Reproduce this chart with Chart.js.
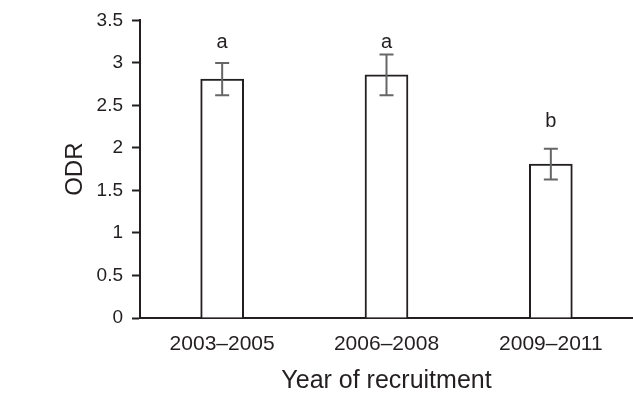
<!DOCTYPE html>
<html>
<head>
<meta charset="utf-8">
<script src="https://cdn.jsdelivr.net/npm/chart.js@4/dist/chart.umd.min.js"></script>
<style>
  html, body { margin: 0; padding: 0; background: #fff; }
  #wrap { width: 633px; height: 397px; }
</style>
</head>
<body>
<div id="wrap"><canvas id="c" width="633" height="397"></canvas></div>
<script>
// Recruitment periods and mean ODR per period
const categories = ['2003–2005', '2006–2008', '2009–2011'];
const odrMean = [2.81, 2.86, 1.81];
const odrError = [0.19, 0.24, 0.18];
// Significance groups shown above the bars
const groupLetters = ['a', 'a', 'b'];
const yTicks = [0, 0.5, 1, 1.5, 2, 2.5, 3, 3.5];

const FONT = "'Liberation Sans', Arial, Helvetica, sans-serif";
const INK = '#231f20';

// Draws the error bars and group letters using the chart's own scales
const errorBarPlugin = {
  id: 'errorBars',
  afterDatasetsDraw(chart, args, opts) {
    const { ctx, scales: { y } } = chart;
    const meta = chart.getDatasetMeta(0);
    ctx.save();
    meta.data.forEach((bar, i) => {
      const cx = bar.x;
      const hi = y.getPixelForValue(odrMean[i] + odrError[i]);
      const lo = y.getPixelForValue(odrMean[i] - odrError[i]);
      const half = opts.capWidth / 2;
      ctx.strokeStyle = opts.color;
      ctx.lineWidth = opts.lineWidth;
      ctx.beginPath();
      ctx.moveTo(cx, hi); ctx.lineTo(cx, lo);
      ctx.moveTo(cx - half, hi); ctx.lineTo(cx + half, hi);
      ctx.moveTo(cx - half, lo); ctx.lineTo(cx + half, lo);
      ctx.stroke();

      ctx.fillStyle = INK;
      ctx.font = opts.letterFont;
      ctx.textAlign = 'center';
      ctx.textBaseline = 'alphabetic';
      ctx.fillText(groupLetters[i], cx, y.getPixelForValue(opts.letterAt[i]));
    });
    ctx.restore();
  }
};

new Chart(document.getElementById('c'), {
  type: 'bar',
  data: {
    labels: categories,
    datasets: [{
      data: odrMean,
      backgroundColor: '#ffffff',
      borderColor: INK,
      borderWidth: 2,
      barThickness: 43
    }]
  },
  options: {
    responsive: false,
    animation: false,
    devicePixelRatio: 1,
    layout: { padding: { top: 19, right: 0, bottom: 0, left: 0 } },
    plugins: {
      legend: { display: false },
      tooltip: { enabled: false },
      errorBars: {
        color: '#666666',
        lineWidth: 2,
        capWidth: 14,
        letterFont: '20px ' + FONT,
        letterAt: [3.18, 3.18, 2.25]
      }
    },
    scales: {
      x: {
        offset: true,
        grid: { display: false, drawTicks: false },
        border: { display: true, color: INK, width: 2 },
        ticks: {
          color: INK,
          padding: 14,
          font: { family: FONT, size: 21 }
        },
        title: {
          display: true,
          text: 'Year of recruitment',
          color: INK,
          font: { family: FONT, size: 25 },
          padding: { top: 0, bottom: 1 }
        },
        afterFit(scale) { scale.height = 79; }
      },
      y: {
        min: 0,
        max: 3.5,
        afterBuildTicks(scale) { scale.ticks = yTicks.map(v => ({ value: v })); },
        grid: {
          drawOnChartArea: false,
          drawTicks: true,
          tickLength: 8,
          tickColor: INK,
          tickWidth: 2
        },
        border: { display: true, color: INK, width: 2 },
        ticks: {
          color: INK,
          padding: 9,
          font: { family: FONT, size: 19 },
          callback: v => String(v)
        },
        title: {
          display: true,
          text: 'ODR',
          color: INK,
          font: { family: FONT, size: 24 },
          padding: { top: 61, bottom: 0 }
        },
        afterFit(scale) { scale.width = 140; }
      }
    }
  },
  plugins: [errorBarPlugin]
});
</script>
</body>
</html>
